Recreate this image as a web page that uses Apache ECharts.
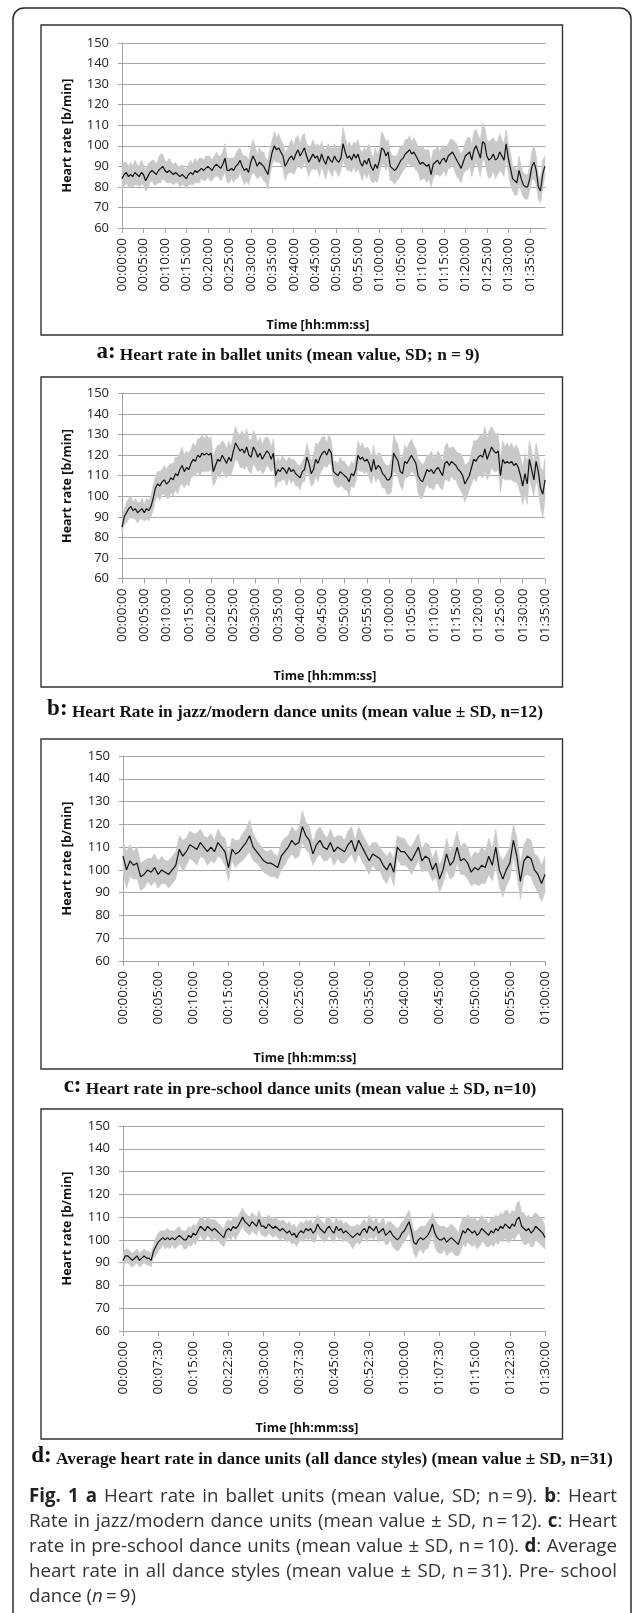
<!DOCTYPE html>
<html><head><meta charset="utf-8">
<script src="https://cdn.jsdelivr.net/npm/echarts@6/dist/echarts.min.js"></script>
<style>html,body{margin:0;padding:0;background:#fff;}#c{width:634px;height:1613px;}</style>
</head><body><div id="c"></div>
<script>
const sampleStepSec = 30;

const balletMean = [
84,86,87,85,86,85,87,86,85,87,
86,83,85,87,88,87,86,88,89,90,
88,87,88,87,86,87,86,85,86,85,
84,86,87,86,88,87,88,89,88,89,
90,89,88,90,91,90,89,91,94,88,
88,89,88,90,91,93,90,88,89,87,
92,95,93,90,92,91,90,88,86,92,
97,100,98,99,97,95,90,92,94,95,
93,96,98,95,97,99,95,92,94,96,
94,95,92,96,93,91,95,93,92,95,
93,92,94,101,97,94,95,93,96,94,
96,92,90,93,91,94,90,88,91,89,
93,99,98,95,97,90,89,88,89,91,
93,94,96,97,98,96,97,95,93,91,
92,91,90,91,86,91,92,93,91,93,
94,92,95,96,97,95,93,91,89,92,
95,96,97,93,98,100,97,94,102,101,
95,93,94,96,93,94,97,95,93,101,
94,89,84,83,82,88,84,81,80,80,
84,90,92,88,80,78,86,90];
const balletSD = [
5,6,5,5,6,5,6,5,5,6,
5,5,6,5,5,6,5,6,7,6,
5,5,6,5,5,5,4,5,5,4,
5,5,6,5,6,5,6,5,5,6,
5,6,5,5,6,5,6,6,7,6,
6,5,6,6,7,6,6,7,6,6,
7,8,7,6,7,6,7,6,7,7,
6,7,6,7,6,6,7,6,7,8,
7,8,7,6,8,7,6,7,6,7,
6,6,7,6,6,7,6,6,7,6,
6,7,6,8,7,6,7,6,6,7,
7,6,7,6,7,7,7,6,8,7,
6,8,7,7,6,7,6,7,6,7,
7,6,7,6,7,6,7,7,6,8,
8,7,8,7,6,7,6,7,6,7,
6,7,6,7,6,7,8,7,7,6,
7,8,7,8,9,8,8,9,9,8,
8,9,9,8,9,8,9,8,8,7,
7,8,6,7,6,7,6,6,6,6,
6,7,8,7,6,6,7,5];

const jazzMean = [
85,90,92,94,95,93,94,92,93,94,
92,94,93,95,99,104,106,105,107,108,
106,107,109,108,111,110,113,115,112,114,
113,116,118,117,120,119,121,120,121,120,
121,112,115,118,117,120,118,116,119,117,
122,126,124,122,123,121,124,120,119,124,
122,119,121,118,120,122,121,118,121,110,
113,112,114,113,111,114,112,113,111,110,
109,112,113,119,116,111,113,118,116,119,
121,122,120,123,121,112,111,110,112,111,
110,109,107,111,110,113,120,118,119,117,
118,116,112,118,113,115,114,111,110,108,
108,110,121,119,117,112,111,117,116,118,
120,118,116,110,108,107,110,113,112,113,
111,113,114,112,110,116,117,115,117,116,
115,113,112,110,106,108,110,114,118,117,
119,120,119,123,118,121,124,122,121,122,
110,118,116,117,116,117,115,116,114,110,
105,111,106,118,113,108,117,112,104,101,
108];
const jazzSD = [
3,4,5,5,5,4,5,5,4,5,
4,5,5,5,6,6,6,7,6,7,
7,8,7,8,8,9,8,9,8,8,
8,7,8,7,8,9,9,8,9,8,
8,7,8,7,8,7,8,7,8,7,
8,8,7,8,9,8,9,8,8,8,
8,7,8,7,8,7,7,6,7,6,
6,5,6,5,6,5,6,5,6,5,
6,5,6,7,6,6,7,8,9,8,
8,7,6,7,6,5,6,6,7,6,
7,6,7,6,6,6,7,6,7,6,
6,7,6,7,6,6,7,7,6,7,
7,8,9,8,8,7,8,8,7,8,
8,7,7,8,9,8,7,7,8,9,
8,7,8,8,7,8,9,8,7,8,
7,8,9,9,9,8,7,8,9,10,
9,10,10,11,10,11,10,10,9,9,
8,9,8,9,8,9,8,9,9,9,
9,10,10,9,9,8,9,9,10,11,
10];

const preschoolMean = [
106,100,104,102,103,97,98,100,99,101,
98,100,99,98,100,102,109,106,108,111,
110,109,112,110,108,110,108,112,110,108,
101,109,107,108,110,112,115,110,108,106,
104,103,103,102,101,106,108,110,113,111,
112,119,115,113,107,111,113,110,109,112,
108,110,109,108,111,113,108,113,110,107,
104,107,106,105,102,100,103,99,110,108,
108,106,104,107,110,104,106,105,100,103,
96,100,107,102,104,110,104,105,103,99,
101,100,102,101,106,102,110,100,96,100,
103,113,106,95,104,106,105,100,98,94,
98];
const preschoolSD = [
7,8,7,6,7,6,6,5,6,6,
6,6,5,6,6,6,6,7,6,6,
6,7,6,5,6,6,5,6,5,6,
6,5,6,5,6,6,7,6,5,5,
5,5,6,5,5,6,6,5,6,6,
6,7,6,6,5,6,6,6,5,6,
6,5,6,5,6,6,5,6,6,6,
6,5,6,5,6,6,5,6,5,6,
6,5,6,6,6,5,6,6,5,6,
6,6,7,6,7,7,6,7,7,6,
7,7,8,7,8,7,8,7,8,7,
7,7,8,8,7,8,8,7,8,8,
8];

const allMean = [
91,93,93,92,91,92,93,91,92,93,
92,92,91,95,97,99,100,101,100,101,
100,101,100,101,102,101,100,100,102,101,
103,102,104,106,105,104,106,105,104,105,
104,103,102,101,104,105,104,106,105,106,
108,110,108,107,106,108,107,106,109,106,
106,105,107,106,105,106,105,104,105,104,
103,104,102,103,101,103,104,103,105,104,
105,103,104,107,105,104,103,105,106,104,
103,106,104,105,103,104,103,102,101,102,
103,102,104,105,103,106,105,104,106,103,
104,105,102,103,104,102,101,100,101,103,
104,106,108,104,99,98,100,101,100,101,
102,104,107,103,101,100,100,101,99,100,
101,100,99,98,101,104,103,105,104,103,
104,102,103,105,104,103,102,104,103,105,
104,106,105,107,106,105,107,106,109,110,
106,105,104,105,103,104,106,105,104,103,
101];
const allSD = [
3,3,3,3,3,3,3,3,3,3,
3,3,3,3,4,4,4,3,4,4,
4,3,4,4,4,3,4,4,4,4,
4,4,4,4,5,4,4,4,5,4,
4,4,4,4,4,4,4,4,5,4,
4,4,4,4,4,4,4,4,4,4,
4,4,4,4,4,4,4,4,4,4,
4,4,4,4,4,4,4,4,4,4,
4,4,5,4,4,4,4,5,4,4,
4,4,4,4,4,4,4,4,5,4,
4,4,4,4,4,5,4,4,4,4,
4,5,4,5,4,5,5,5,5,5,
5,5,5,5,5,6,5,5,6,5,
6,5,5,6,6,6,6,5,6,6,
6,6,6,5,6,6,6,6,6,6,
6,6,6,6,5,6,5,6,6,6,
6,6,6,6,7,6,6,6,7,7,
6,7,6,6,6,7,6,6,6,6,
5];

const xMaxSec = [5920, 5700, 3600, 5400];
const xIntervalSec = [300, 300, 300, 450];
const yMin = 60, yMax = 150, yInterval = 10;

const yTitle = 'Heart rate [b/min]';
const xTitle = 'Time [hh:mm:ss]';
const panelLetters = ['a:', 'b:', 'c:', 'd:'];
const panelCaptions = [
  ' Heart rate in ballet units (mean value, SD; n = 9)',
  ' Heart Rate in jazz/modern dance units (mean value \u00B1 SD, n=12)',
  ' Heart rate in pre-school dance units (mean value \u00B1 SD, n=10)',
  ' Average heart rate in dance units (all dance styles) (mean value \u00B1 SD, n=31)'
];
const figCaptionLines = [
  '{b|Fig.} {b|1} {b|a} Heart rate in ballet units (mean value, SD; n\u2009=\u20099). {b|b}: Heart',
  'Rate in jazz/modern dance units (mean value \u00B1 SD, n\u2009=\u200912). {b|c}: Heart',
  'rate in pre-school dance units (mean value \u00B1 SD, n\u2009=\u200910). {b|d}: Average',
  'heart rate in all dance styles (mean value \u00B1 SD, n\u2009=\u200931). Pre- school',
  'dance ({i|n}\u2009=\u20099)'
];

// ---- layout ----
const layout = [
  {box:[41,25,521.5,310],  grid:[122,43,423.5,185],  yT:[67,135.5],  xT:[318,325],  cap:[288,352]},
  {box:[41,377,521.5,310], grid:[122,393.5,423,185], yT:[67,486],    xT:[325,676],  cap:[295,709]},
  {box:[41,739,521.5,330], grid:[123,756,422,205],   yT:[67,858.5],  xT:[305,1058], cap:[300,1086]},
  {box:[41,1109,521.5,330],grid:[123,1126,422,205],  yT:[67,1228.5], xT:[307,1428], cap:[322,1456]}
];
const means = [balletMean, jazzMean, preschoolMean, allMean];
const sds = [balletSD, jazzSD, preschoolSD, allSD];

function fmt(v){
  const s = Math.round(v);
  const h = Math.floor(s/3600), m = Math.floor((s%3600)/60), sec = s%60;
  const p = n => (n<10?'0':'')+n;
  return p(h)+':'+p(m)+':'+p(sec);
}

function bandRenderer(rows){
  return function(params, api){
    if (params.dataIndex !== 0) return null;
    const pts = [];
    for (let i = 0; i < rows.length; i++) pts.push(api.coord([rows[i][0], rows[i][2]]));
    for (let i = rows.length - 1; i >= 0; i--) pts.push(api.coord([rows[i][0], rows[i][1]]));
    return {type:'polygon', shape:{points:pts}, style:{fill:'#c9c9c9', stroke:'#c9c9c9', lineWidth:0.6}};
  };
}

const grids=[], xAxes=[], yAxes=[], series=[], graphic=[];
const axisGray = '#a3a3a3';
graphic.push({type:'rect', shape:{x:13,y:8,width:618,height:1700,r:11},
  style:{fill:'none', stroke:'#2b2b2b', lineWidth:1.5}, z:0});

layout.forEach((L,k)=>{
  grids.push({left:L.grid[0], top:L.grid[1], width:L.grid[2], height:L.grid[3], outerBoundsMode:'none', containLabel:false});
  xAxes.push({gridIndex:k, type:'value', min:0, max:xMaxSec[k], interval:xIntervalSec[k],
    axisLine:{show:true, onZero:false, lineStyle:{color:axisGray, width:1}},
    axisTick:{show:true, length:5, lineStyle:{color:axisGray}},
    splitLine:{show:false},
    axisLabel:{rotate:90, margin:10, fontFamily:'Open Sans', fontSize:13.5, color:'#222',
      formatter:fmt, showMaxLabel: xMaxSec[k] % xIntervalSec[k] === 0, showMinLabel:true, hideOverlap:false}
  });
  yAxes.push({gridIndex:k, type:'value', min:yMin, max:yMax, interval:yInterval,
    axisLine:{show:true, lineStyle:{color:axisGray, width:1}},
    axisTick:{show:true, length:4, lineStyle:{color:axisGray}},
    splitLine:{show:true, lineStyle:{color:'#a8a8a8', width:1}},
    axisLabel:{margin:13, fontFamily:'Open Sans', fontSize:13, color:'#222'}
  });
  const m = means[k], s = sds[k];
  const rows = m.map((v,i)=>[i*sampleStepSec, v - s[i], v + s[i]]);
  series.push({type:'custom', xAxisIndex:k, yAxisIndex:k, silent:true, z:2,
    data: rows, encode:{x:0, y:[1,2]}, renderItem: bandRenderer(rows)});
  series.push({type:'line', xAxisIndex:k, yAxisIndex:k, symbol:'none', silent:true,
    lineStyle:{color:'#111', width:1.2}, data: m.map((v,i)=>[i*sampleStepSec, v]), z:3});

  graphic.push({type:'rect', shape:{x:L.box[0], y:L.box[1], width:L.box[2], height:L.box[3]},
    style:{fill:'none', stroke:'#333', lineWidth:1.4}, z:1});
  graphic.push({type:'text', x:L.yT[0], y:L.yT[1], rotation:Math.PI/2, z:10,
    style:{text:yTitle, font:'bold 12.5px "Open Sans"', fill:'#111', align:'center', verticalAlign:'middle'}});
  graphic.push({type:'text', x:L.xT[0], y:L.xT[1], z:10,
    style:{text:xTitle, font:'bold 12.5px "Open Sans"', fill:'#111', align:'center', verticalAlign:'middle'}});
  graphic.push({type:'text', x:L.cap[0], y:L.cap[1], z:10,
    style:{text:'{L|'+panelLetters[k]+'}{t|'+panelCaptions[k]+'}', align:'center', verticalAlign:'middle',
      rich:{L:{fontFamily:'Liberation Serif', fontWeight:'bold', fontSize:23, lineHeight:24, verticalAlign:'bottom', fill:'#111'},
            t:{fontFamily:'Liberation Serif', fontWeight:'bold', fontSize:17.3, lineHeight:21, verticalAlign:'bottom', fill:'#111'}}}});
});

// ---- justified figure caption ----
const figFontSize = 18.7, figLeft = 29, figRight = 617, figTop = 1497, figLineStep = 25;
const mctx = document.createElement('canvas').getContext('2d');
function fontFor(k){ return (k==='b'?'bold ':k==='i'?'italic ':'') + figFontSize + 'px "Open Sans"'; }
function segs(word){
  const out=[]; const re=/\{(\w)\|([^}]*)\}|([^{]+)/g; let mm;
  while((mm=re.exec(word))){ if(mm[1]) out.push([mm[1],mm[2]]); else out.push(['n',mm[3]]); }
  return out;
}
function wordWidth(word){
  return segs(word).reduce((w,[k,t])=>{ mctx.font=fontFor(k); return w + mctx.measureText(t).width; }, 0);
}
const figRich = {b:{fontFamily:'Open Sans', fontWeight:'bold', fontSize:figFontSize, fill:'#222'},
                 i:{fontFamily:'Open Sans', fontStyle:'italic', fontSize:figFontSize, fill:'#333'}};
mctx.font = fontFor('n');
const spaceW = mctx.measureText(' ').width;
figCaptionLines.forEach((line,li)=>{
  const words = line.split(' ');
  const widths = words.map(wordWidth);
  const total = widths.reduce((a,b)=>a+b,0);
  const last = li === figCaptionLines.length - 1;
  const gap = last ? spaceW : Math.max(spaceW*0.8, (figRight - figLeft - total) / (words.length - 1));
  let x = figLeft;
  words.forEach((w,wi)=>{
    graphic.push({type:'text', x:x, y:figTop + li*figLineStep, z:10,
      style:{text:w, font:fontFor('n'), fill:'#333', align:'left', verticalAlign:'middle', rich:figRich}});
    x += widths[wi] + gap;
  });
});

const chart = echarts.init(document.getElementById('c'), null, {renderer:'canvas'});
chart.setOption({animation:false, backgroundColor:'#fff', grid:grids, xAxis:xAxes, yAxis:yAxes, series:series, graphic:graphic});
</script></body></html>
